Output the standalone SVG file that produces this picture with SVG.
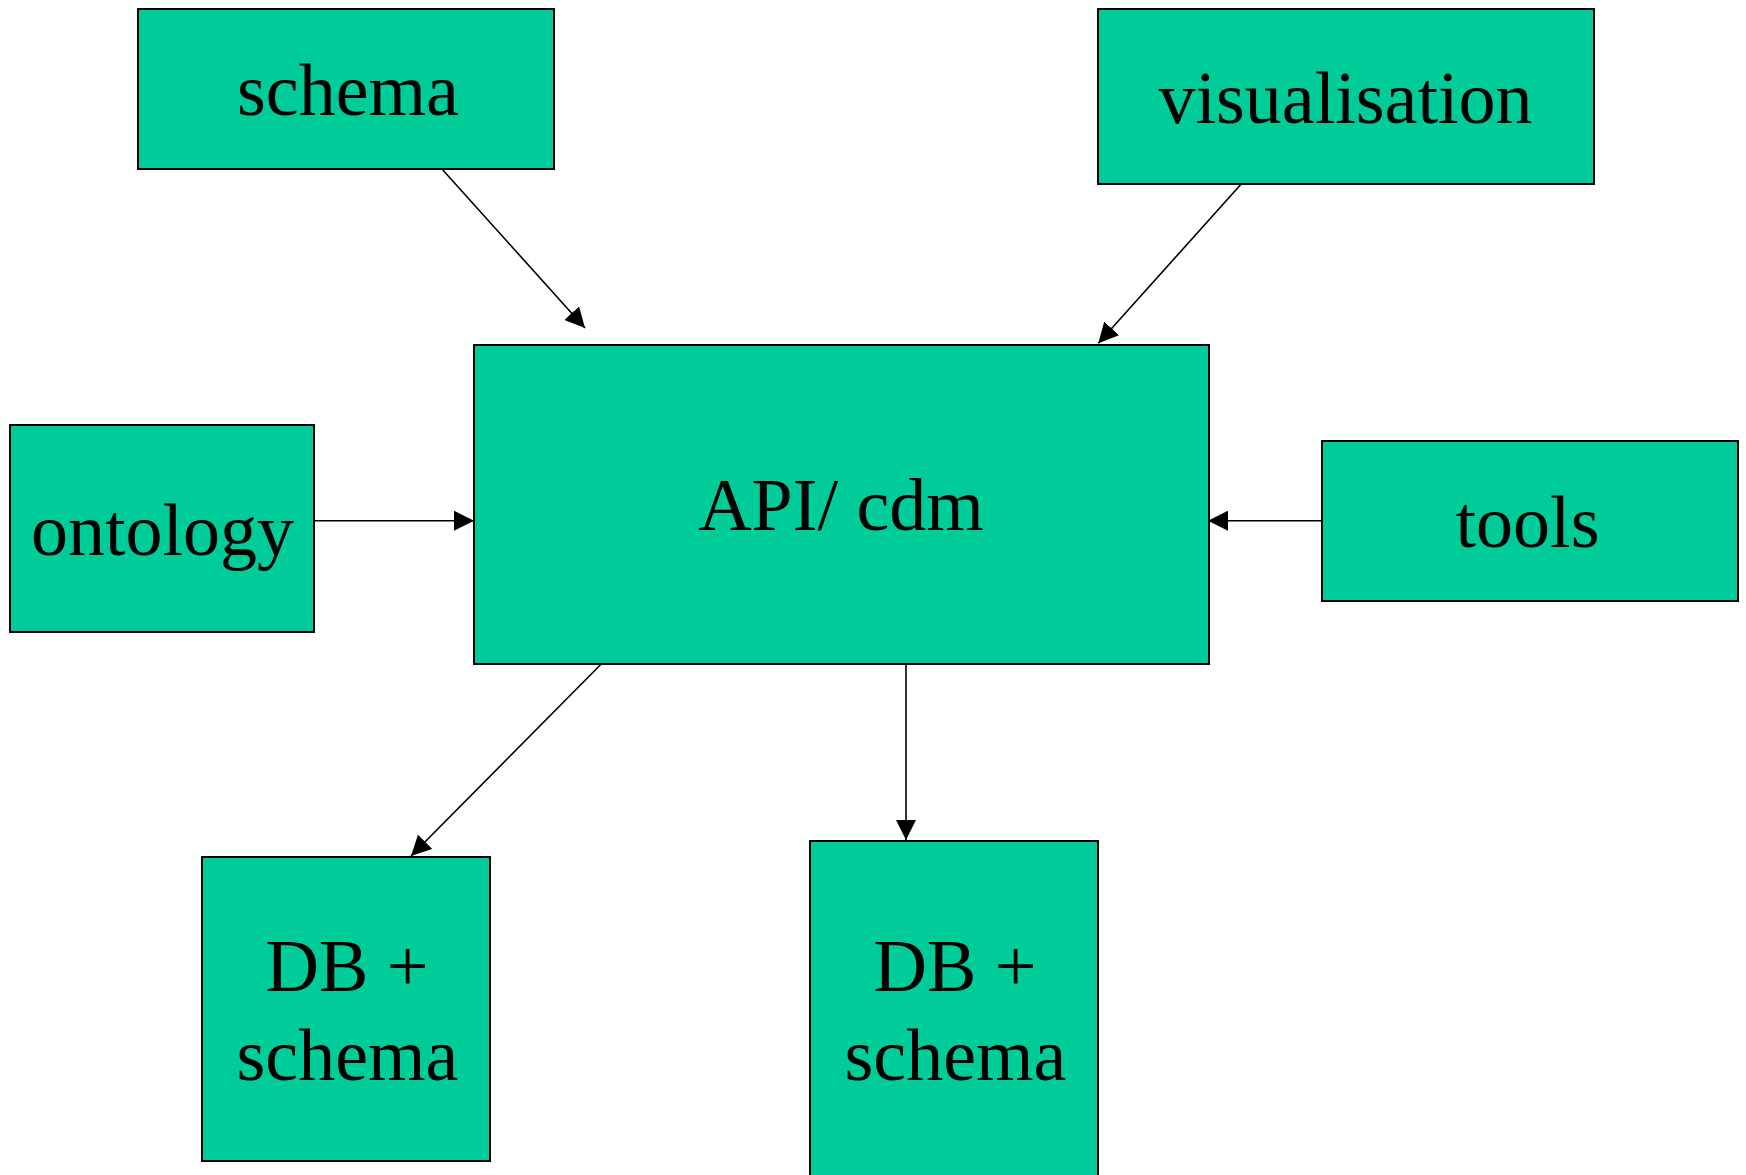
<svg xmlns="http://www.w3.org/2000/svg" width="1746" height="1175" viewBox="0 0 1746 1175">
<style>
.box{fill:#00CC99;stroke:#000;stroke-width:2}
.lbl{font-family:"Liberation Serif","Times New Roman",serif;font-size:74px;fill:#000;text-anchor:middle}
.edge{stroke:#000;stroke-width:1.6;fill:none;marker-end:url(#arr)}
</style>
<defs>
<marker id="arr" markerUnits="userSpaceOnUse" markerWidth="20" markerHeight="20" refX="20" refY="10" orient="auto" viewBox="0 0 20 20">
<path d="M0,0 L20,10 L0,20 z" fill="#000"/>
</marker>
</defs>
<rect width="1746" height="1175" fill="#fff"/>
<g id="connectors">
<line class="edge" x1="441.7" y1="168.7" x2="585" y2="328"/>
<line class="edge" x1="1241" y1="184.3" x2="1098.3" y2="343.3"/>
<line class="edge" x1="314" y1="520.7" x2="474" y2="520.7"/>
<line class="edge" x1="1322" y1="520.7" x2="1208" y2="520.7"/>
<line class="edge" x1="601" y1="664.3" x2="411" y2="856"/>
<line class="edge" x1="906" y1="664.3" x2="906" y2="840"/>
</g>
<g id="schema">
<rect class="box" x="138" y="9" width="416" height="160"/>
<text class="lbl" x="348" y="115">schema</text>
</g>
<g id="visualisation">
<rect class="box" x="1098" y="9" width="496" height="175"/>
<text class="lbl" x="1345.5" y="123">visualisation</text>
</g>
<g id="api">
<rect class="box" x="474" y="345" width="735" height="319"/>
<text class="lbl" x="841" y="530">API/ cdm</text>
</g>
<g id="ontology">
<rect class="box" x="10" y="425" width="304" height="207"/>
<text class="lbl" x="162.5" y="555">ontology</text>
</g>
<g id="tools">
<rect class="box" x="1322" y="441" width="416" height="160"/>
<text class="lbl" x="1527.5" y="547">tools</text>
</g>
<g id="db1">
<rect class="box" x="202" y="857" width="288" height="304"/>
<text class="lbl" x="347" y="991">DB +</text>
<text class="lbl" x="347.5" y="1080">schema</text>
</g>
<g id="db2">
<rect class="box" x="810" y="841" width="288" height="400"/>
<text class="lbl" x="955" y="991">DB +</text>
<text class="lbl" x="955.5" y="1080">schema</text>
</g>
</svg>
